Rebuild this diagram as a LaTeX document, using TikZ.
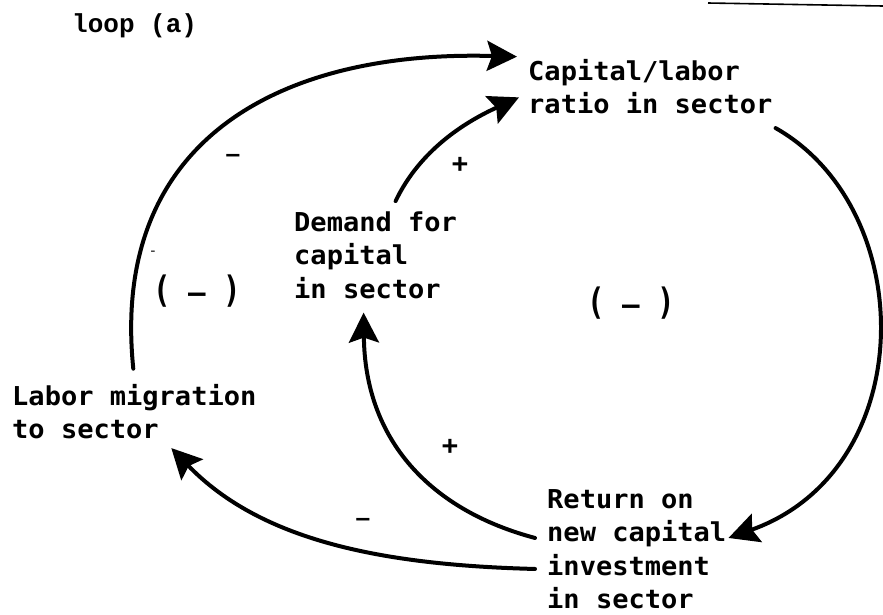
\documentclass[tikz,border=0pt]{standalone}
\usepackage{fontspec}
\usepackage{graphicx}
\usetikzlibrary{arrows.meta}
\newfontfamily\typefont[FakeStretch=1.04]{DejaVu Sans Mono}
\newfontfamily\loopfont{Liberation Mono}
\begin{document}
\begin{tikzpicture}[x=1pt,y=-1pt,
  txt/.style={font=\typefont\bfseries\fontsize{26}{33.5}\selectfont,
    anchor=base west, align=left, inner sep=6pt},
  signmark/.style={font=\typefont\bfseries\fontsize{26}{26}\selectfont, inner sep=0pt},
  loopsign/.style={font=\typefont\bfseries\fontsize{28}{28}\selectfont, inner sep=0pt},
  causal/.style={line width=4pt, line cap=round,
    -{Stealth[length=30pt,width=30pt,inset=5pt]}},
]
\useasboundingbox (0,0) rectangle (883,614);

% rule fragment along the top edge
\draw[line width=1.6pt] (708,3) -- (883,6);

% title
\node[font=\loopfont\bfseries\fontsize{26}{26}\selectfont, anchor=base west, inner sep=0pt]
  (title) at (72,32) {loop (a)};

% variables (placed by the baseline of their last line)
\node[txt] (cap) at (522,113.5) {Capital/labor\\ratio in sector};
\node[txt] (dem) at (288,298)   {Demand for\\capital\\in sector};
\node[txt] (lab) at (6,438.5)   {Labor migration\\to sector};
\node[txt] (ret) at (541,608.5) {Return on\\new capital\\investment\\in sector};

% causal links
\draw[causal] ([shift={(-1,-9)}]lab.north)
  .. controls (110,140) and (280,50) .. ([shift={(-5,4)}]cap.north west);
\draw[causal] ([shift={(20,-4)}]dem.north)
  .. controls (420,150) and (465,122) .. ([shift={(-3,11)}]cap.west);
\draw[causal] ([shift={(-3,8)}]cap.south east)
  .. controls (920,210) and (920,470) .. ([shift={(-4,-11)}]ret.east);
\draw[causal] ([shift={(-6,-11)}]ret.west)
  .. controls (430,510) and (365,440) .. ([shift={(-12,8)}]dem.south);
\draw[causal] ([shift={(-6,20)}]ret.west)
  .. controls (380,565) and (260,540) .. ([shift={(37,3)}]lab.south);

% link polarities
\node[signmark, font=\typefont\bfseries\fontsize{21}{21}\selectfont] (s1) at (233,158) {–};
\node[signmark, font=\typefont\fontsize{14}{14}\selectfont] (s2) at (153,253) {-};
\node[signmark] (s3) at (460,165) {+};
\node[signmark] (s4) at (450,447) {+};
\node[signmark, font=\typefont\bfseries\fontsize{21}{21}\selectfont] (s5) at (363,522) {–};

% loop polarities
\node[loopsign] (loopL) at (197,291) {\scalebox{1}[1.3]{(} – \scalebox{1}[1.3]{)}};
\node[loopsign] (loopR) at (631,303) {\scalebox{1}[1.3]{(} – \scalebox{1}[1.3]{)}};
\end{tikzpicture}
\end{document}
